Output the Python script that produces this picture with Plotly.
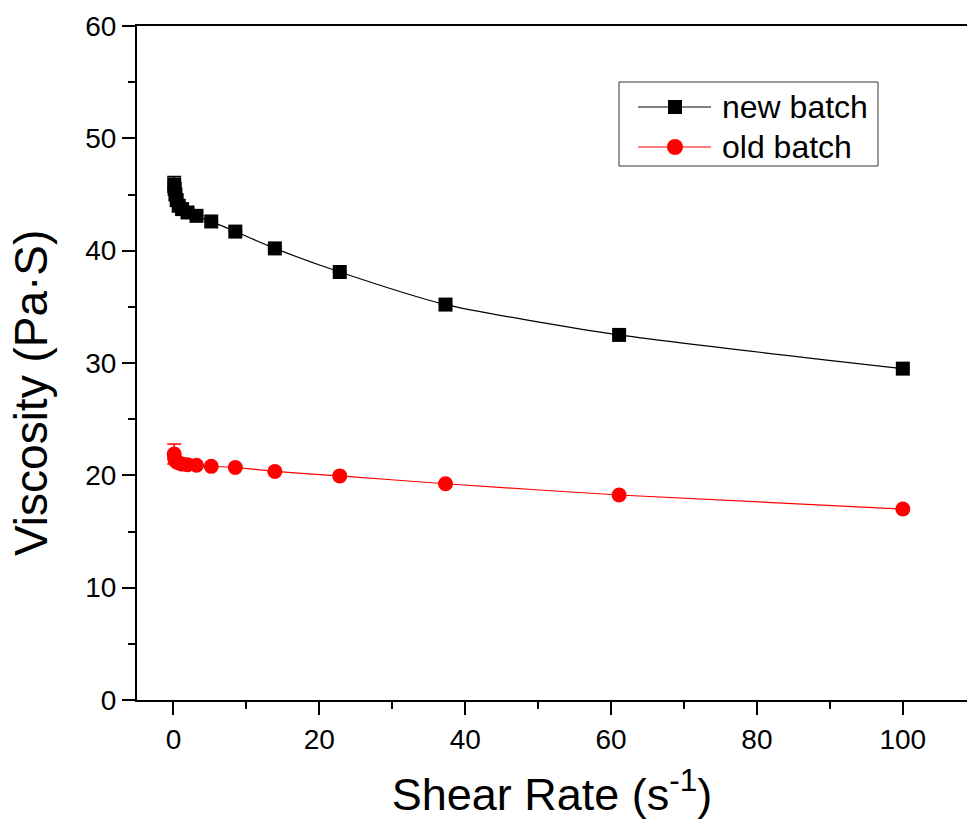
import plotly.graph_objects as go

# ---- data ----
shear_rate = [0.1, 0.164, 0.268, 0.439, 0.72, 1.18, 1.93, 3.16, 5.18, 8.48, 13.9, 22.8, 37.3, 61.1, 100]
new_batch = [45.9, 45.5, 45.0, 44.5, 44.0, 43.7, 43.4, 43.1, 42.6, 41.7, 40.2, 38.1, 35.2, 32.5, 29.5]
old_batch = [21.9, 21.5, 21.3, 21.2, 21.1, 21.0, 20.95, 20.9, 20.8, 20.7, 20.35, 19.95, 19.25, 18.25, 17.0]
new_err = [0.7, 0, 0, 0, 0, 0, 0, 0, 0, 0, 0, 0, 0, 0, 0]
old_err = [0.9, 0, 0, 0, 0, 0, 0, 0, 0, 0, 0, 0, 0, 0, 0]
series_names = ["new batch", "old batch"]
x_ticks = [0, 20, 40, 60, 80, 100]
y_ticks = [0, 10, 20, 30, 40, 50, 60]
x_title = "Shear Rate (s<sup>-1</sup>)"
y_title = "Viscosity (Pa·S)"

FONT = "Arial, 'Liberation Sans', Arimo, sans-serif"
W, H = 967, 825
ML, MR, MT, MB = 137, 0, 26, 125
PW, PH = W - ML - MR, H - MT - MB

fig = go.Figure()
fig.add_trace(go.Scatter(
    x=shear_rate, y=new_batch, mode="lines+markers", name=series_names[0],
    line=dict(color="black", width=1.2, shape="spline", smoothing=0.6),
    marker=dict(symbol="square", size=14, color="black"),
    error_y=dict(type="data", array=new_err, visible=True, color="black", thickness=1.5, width=7),
    showlegend=False))
fig.add_trace(go.Scatter(
    x=shear_rate, y=old_batch, mode="lines+markers", name=series_names[1],
    line=dict(color="#FF0000", width=1.2, shape="spline", smoothing=0.6),
    marker=dict(symbol="circle", size=15, color="#FF0000"),
    error_y=dict(type="data", array=old_err, visible=True, color="#FF0000", thickness=1.5, width=7),
    showlegend=False))

# ---- manual legend (pixel layout converted to paper coords) ----
def px(xp):
    return (xp - ML) / PW

def py(yp):
    return (H - MB - yp) / PH

shapes = [dict(type="rect", xref="paper", yref="paper", x0=px(619), x1=px(878), y0=py(166), y1=py(82),
               line=dict(color="#333333", width=1), fillcolor="white", layer="above")]
annotations = []
rows = [(107, "black", "square", series_names[0]), (147, "#FF0000", "circle", series_names[1])]
for yrow, col, sym, name in rows:
    shapes.append(dict(type="line", xref="paper", yref="paper", x0=px(638), x1=px(711), y0=py(yrow), y1=py(yrow),
                       line=dict(color=col, width=1.2), layer="above"))
    if sym == "square":
        shapes.append(dict(type="rect", xref="paper", yref="paper", xsizemode="pixel", ysizemode="pixel",
                           xanchor=px(675), yanchor=py(yrow), x0=-7, x1=7, y0=-7, y1=7,
                           fillcolor=col, line=dict(width=0), layer="above"))
    else:
        shapes.append(dict(type="circle", xref="paper", yref="paper", xsizemode="pixel", ysizemode="pixel",
                           xanchor=px(675), yanchor=py(yrow), x0=-8, x1=8, y0=-8, y1=8,
                           fillcolor=col, line=dict(width=0), layer="above"))
    annotations.append(dict(xref="paper", yref="paper", x=px(720), y=py(yrow), text=name, showarrow=False,
                            xanchor="left", yanchor="middle", font=dict(family=FONT, size=32, color="black")))

# y-axis title placed as an annotation (centred lower than the plot centre, as in the reference)
annotations.append(dict(xref="paper", yref="paper", x=px(31), y=py(393), text=y_title, showarrow=False,
                        textangle=-90, xanchor="center", yanchor="middle",
                        font=dict(family=FONT, size=46, color="black")))

fig.update_layout(
    width=W, height=H,
    margin=dict(l=ML, r=MR, t=MT, b=MB, autoexpand=False),
    paper_bgcolor="white", plot_bgcolor="white",
    font=dict(family=FONT, color="black"),
    shapes=shapes, annotations=annotations,
    xaxis=dict(
        range=[-5, 108.8], tickvals=x_ticks, ticktext=[str(v) for v in x_ticks],
        showline=True, linecolor="black", linewidth=2, mirror=True, automargin=False,
        ticks="outside", ticklen=13, tickwidth=2, tickcolor="black",
        minor=dict(dtick=10, tick0=0, ticks="outside", ticklen=7, tickwidth=2, tickcolor="black", showgrid=False),
        showgrid=False, zeroline=False,
        tickfont=dict(family=FONT, size=28, color="black"),
        title=dict(text=x_title, font=dict(family=FONT, size=45, color="black"), standoff=25),
    ),
    yaxis=dict(
        range=[0, 60], tickvals=y_ticks, ticktext=[str(v) for v in y_ticks],
        showline=True, linecolor="black", linewidth=2, mirror=False, automargin=False,
        ticks="outside", ticklen=13, tickwidth=2, tickcolor="black",
        minor=dict(dtick=5, tick0=0, ticks="outside", ticklen=7, tickwidth=2, tickcolor="black", showgrid=False),
        showgrid=False, zeroline=False,
        tickfont=dict(family=FONT, size=28, color="black"),
    ),
)

fig.write_html("out.html", config={"displayModeBar": False},
               post_script="document.body.style.margin='0';document.body.style.overflow='hidden';")
